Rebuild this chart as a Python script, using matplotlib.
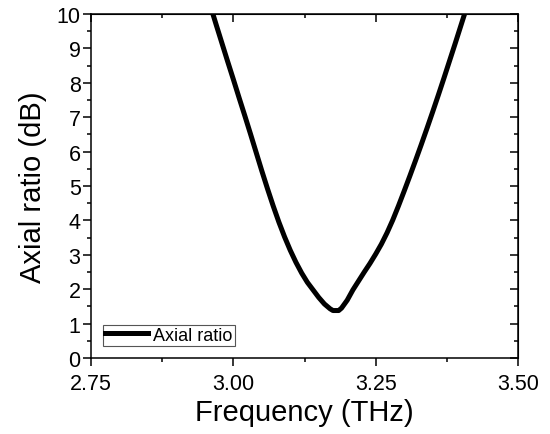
import matplotlib.pyplot as plt
from matplotlib.ticker import MultipleLocator

plt.rcParams['font.family'] = ['Liberation Sans', 'DejaVu Sans']

# frequency (THz) and axial ratio (dB)
freq = [2.95, 2.96, 2.97, 2.98, 2.99, 3.00, 3.01, 3.02, 3.03, 3.04, 3.05,
        3.06, 3.07, 3.08, 3.09, 3.10, 3.11, 3.12, 3.13, 3.14, 3.15, 3.16,
        3.17, 3.175, 3.185, 3.19, 3.20, 3.21, 3.22, 3.23, 3.24, 3.25, 3.26,
        3.27, 3.28, 3.29, 3.30, 3.31, 3.32, 3.33, 3.34, 3.35, 3.36, 3.37,
        3.38, 3.39, 3.40, 3.41, 3.42]
axial_ratio = [10.75, 10.22, 9.68, 9.15, 8.62, 8.10, 7.57, 7.05, 6.52, 5.98, 5.44,
               4.92, 4.42, 3.95, 3.52, 3.13, 2.78, 2.47, 2.20, 1.98, 1.76, 1.57,
               1.43, 1.38, 1.38, 1.45, 1.68, 1.98, 2.24, 2.50, 2.75, 3.02, 3.31,
               3.64, 4.01, 4.42, 4.85, 5.29, 5.74, 6.20, 6.67, 7.15, 7.64, 8.14,
               8.65, 9.16, 9.68, 10.20, 10.72]
xticks = [2.75, 3.00, 3.25, 3.50]
yticks = list(range(0, 11))

fig = plt.figure(figsize=(5.5, 4.35), dpi=100)
ax = fig.add_axes([0.1655, 0.1747, 0.7763, 0.7908])
ax.plot(freq, axial_ratio, color='black', lw=3.6, label='Axial ratio',
        solid_joinstyle='round')

ax.set_xlim(2.75, 3.5)
ax.set_ylim(0, 10)
ax.set_xticks(xticks)
ax.set_xticklabels(['%.2f' % v for v in xticks])
ax.set_yticks(yticks)
ax.xaxis.set_minor_locator(MultipleLocator(0.125))
ax.yaxis.set_minor_locator(MultipleLocator(0.5))

# Origin-style ticks: out on bottom/left, in on top/right
ax.tick_params(which='both', direction='out', labelsize=15.5, width=1.1,
               color='black')
ax.tick_params(which='major', length=5.5)
ax.tick_params(which='minor', length=3)
ax.tick_params(axis='y', pad=2)
ax.tick_params(axis='x', pad=5.5)
ax2 = ax.secondary_xaxis('top')
ax2.set_xticks(xticks)
ax2.xaxis.set_minor_locator(MultipleLocator(0.125))
ax2.tick_params(which='both', direction='in', labeltop=False, width=1.1)
ax2.tick_params(which='major', length=5.5)
ax2.tick_params(which='minor', length=3)
ax3 = ax.secondary_yaxis('right')
ax3.set_yticks(yticks)
ax3.yaxis.set_minor_locator(MultipleLocator(0.5))
ax3.tick_params(which='both', direction='in', labelright=False, width=1.1)
ax3.tick_params(which='major', length=5.5)
ax3.tick_params(which='minor', length=3)
for s in ax.spines.values():
    s.set_linewidth(1.1)

ax.set_xlabel('Frequency (THz)', fontsize=21, labelpad=3)
ax.set_ylabel('Axial ratio (dB)', fontsize=21, labelpad=7)

leg = ax.legend(loc='lower left', bbox_to_anchor=(0.028, 0.035), fontsize=13,
                fancybox=False, framealpha=1, edgecolor='#555555',
                handlelength=2.4, handletextpad=0.25, borderpad=0.12,
                borderaxespad=0)
leg.get_frame().set_linewidth(0.8)

fig.savefig('out.png', dpi=100)
